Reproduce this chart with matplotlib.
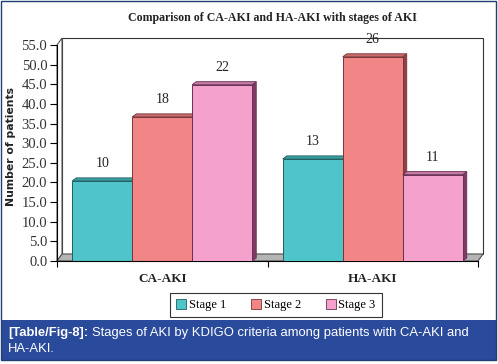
import matplotlib
matplotlib.use("Agg")
import matplotlib.pyplot as plt
from matplotlib.patches import Polygon, Rectangle, Patch

groups = ["CA-AKI", "HA-AKI"]
stages = ["Stage 1", "Stage 2", "Stage 3"]
# bar heights (percent of patients) and the counts printed above them
pct = [[20.4, 26.0], [36.7, 52.0], [44.9, 22.0]]
counts = [[10, 13], [18, 26], [22, 11]]

front = ["#4fc4c9", "#f28585", "#f4a2cb"]
top = ["#3a9fa3", "#c76a6a", "#c47aa3"]
side = ["#2a7375", "#8f4048", "#7d3b66"]
edge = ["#1f5f61", "#7a3438", "#6a2f55"]

W, H = 498, 364
fig = plt.figure(figsize=(W / 100, H / 100), dpi=100)
fig.patch.set_facecolor("white")

# plot area in pixels
x0p, x1p, y0p, y1p = 57, 478, 261, 45
ax = fig.add_axes([x0p / W, 1 - y0p / H, (x1p - x0p) / W, (y0p - y1p) / H])
ax.set_xlim(-0.5, 1.5)
ax.set_ylim(0, 55)
ax.patch.set_visible(False)

pxx = (x1p - x0p) / 2.0
pxy = (y0p - y1p) / 55.0

# walls and floor
wdx, wdy = 5 / pxx, 7 / pxy
back = Rectangle((-0.5 + wdx, wdy), 2, 55, facecolor="white", edgecolor="#333333",
                 lw=0.8, zorder=0, clip_on=False)
ax.add_patch(back)
lwall = Polygon([(-0.5, 0), (-0.5 + wdx, wdy), (-0.5 + wdx, 55 + wdy), (-0.5, 55)],
                facecolor="white", edgecolor="#555555", lw=0.8, zorder=0.5, clip_on=False)
ax.add_patch(lwall)
floor = Polygon([(-0.5, 0), (1.5, 0), (1.5 + wdx, wdy), (-0.5 + wdx, wdy)],
                facecolor="#b4b4b4", edgecolor="#505050", lw=0.8, zorder=0.6, clip_on=False)
ax.add_patch(floor)

# 3D-looking bars
bw = 60 / pxx
bdx, bdy = 4 / pxx, 3 / pxy
z = 1
for gi in range(len(groups)):
    for si in range(len(stages)):
        h = pct[si][gi]
        xl = gi + (si - 1) * bw - bw / 2
        xr = xl + bw
        ax.add_patch(Polygon([(xr, 0), (xr + bdx, bdy), (xr + bdx, h + bdy), (xr, h)],
                             facecolor=side[si], edgecolor=edge[si], lw=0.6, zorder=z, clip_on=False))
        ax.add_patch(Polygon([(xl, h), (xr, h), (xr + bdx, h + bdy), (xl + bdx, h + bdy)],
                             facecolor=top[si], edgecolor=edge[si], lw=0.6, zorder=z, clip_on=False))
        ax.bar(xl, h, width=bw, align="edge", color=front[si], edgecolor=edge[si],
               lw=0.7, zorder=z + 0.5)
        ax.text(xl + bw / 2, h + 4.4, str(counts[si][gi]), ha="center", va="center",
                family="Liberation Serif", fontsize=10, color="#222222", zorder=10)
        z += 1

# axes styling
for s in ["top", "right"]:
    ax.spines[s].set_visible(False)
ax.spines["left"].set_color("black")
ax.spines["bottom"].set_color("black")
ax.spines["left"].set_linewidth(0.8)
ax.spines["bottom"].set_linewidth(0.8)
ax.set_yticks([i * 5 for i in range(12)])
ax.set_yticklabels(["%.1f" % (i * 5) for i in range(12)], family="Liberation Serif",
                   fontsize=10.5, color="#333333")
ax.set_xticks([-0.5, 0.5, 1.5])
ax.set_xticklabels([])
ax.set_xticks([0, 1], minor=True)
ax.set_xticklabels(groups, minor=True, family="Liberation Serif", fontweight="bold",
                   fontsize=9.5, color="#222222")
ax.tick_params(axis="x", which="minor", length=0, pad=9)
ax.tick_params(axis="x", which="major", length=4, width=0.8)
ax.tick_params(axis="y", length=5, width=0.8, pad=2)

fig.text(11 / W, 1 - 147 / H, "Number of patients", rotation=90, ha="center", va="center",
         family="DejaVu Sans", fontweight="bold", fontsize=7.8, color="#222222")
fig.text(272 / W, 1 - 18 / H, "Comparison of CA-AKI and HA-AKI with stages of AKI",
         ha="center", va="center", family="Liberation Serif", fontweight="bold",
         fontsize=8.6, color="#222222")

handles = [Patch(facecolor=front[i], edgecolor=edge[i], lw=0.6) for i in range(3)]
leg = fig.legend(handles, stages, loc="center", bbox_to_anchor=(276 / W, 1 - 305 / H),
                 ncol=3, frameon=True, fancybox=False, handlelength=0.8, handleheight=0.8,
                 handletextpad=0.2, columnspacing=2.0, borderpad=0.5,
                 prop={"family": "Liberation Serif", "size": 9})
leg.get_frame().set_edgecolor("black")
leg.get_frame().set_linewidth(0.8)

# caption bar and outer border
fig.patches.append(Rectangle((1 / W, 1 - 360 / H), 495 / W, 40 / H, transform=fig.transFigure,
                             facecolor="#2a4a9b", edgecolor="none", zorder=0))
fig.patches.append(Rectangle((1 / W, 1 - 360 / H), 495 / W, 359 / H, transform=fig.transFigure,
                             facecolor="none", edgecolor="#1f3f72", lw=1.0, zorder=5))

t1 = fig.text(8 / W, 1 - 333 / H, "[Table/Fig-8]:", family="Liberation Sans",
              fontweight="bold", fontsize=9.4, color="white", va="center")
fig.canvas.draw()
bb = t1.get_window_extent()
fig.text((bb.x1 + 4) / W, 1 - 333 / H,
         "Stages of AKI by KDIGO criteria among patients with CA-AKI and",
         family="Liberation Sans", fontsize=9.4, color="white", va="center")
fig.text(8 / W, 1 - 349 / H, "HA-AKI.", family="Liberation Sans", fontsize=9.4,
         color="white", va="center")

fig.savefig("out.png", dpi=100)
